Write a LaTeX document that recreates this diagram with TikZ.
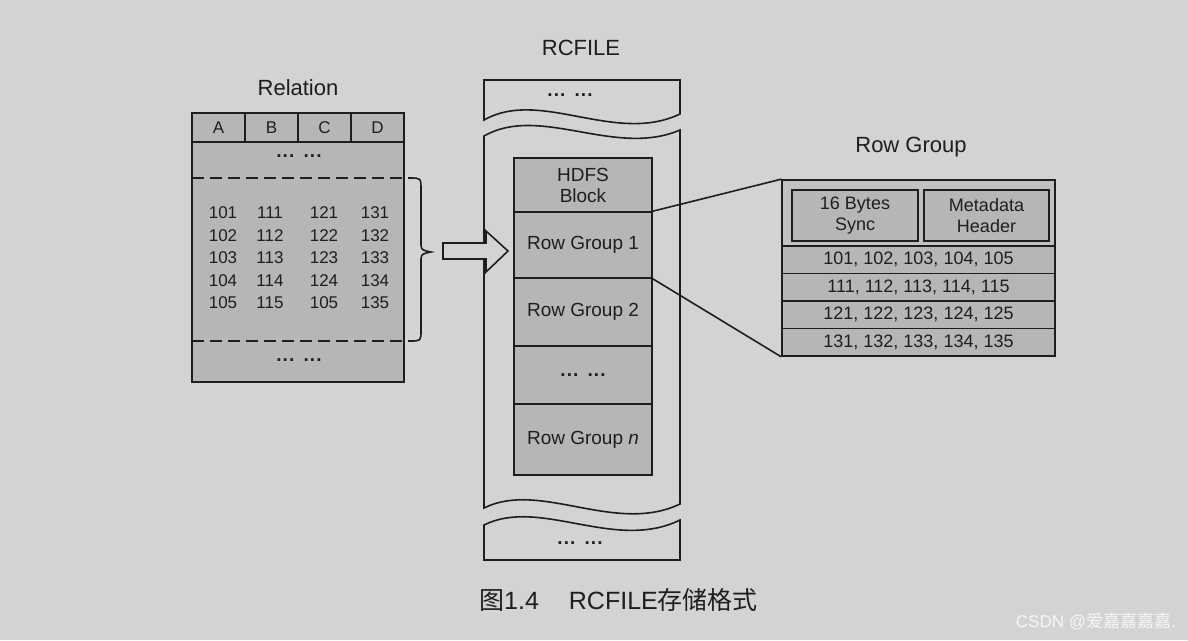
\documentclass[tikz,border=0pt]{standalone}
\usepackage{fontspec}
\setmainfont{Liberation Sans}
\newfontfamily\cjk{Noto Sans CJK SC}
\definecolor{paper}{HTML}{D5D3D2}
\definecolor{shade}{HTML}{B8B6B5}
\definecolor{shadelight}{HTML}{C3C1C0}
\definecolor{ink}{HTML}{1E1E1E}
\newcommand{\dotgroup}{\textbf{.\kern1.2pt.\kern1.2pt.}}
\newcommand{\twodots}{\dotgroup\hspace{9pt}\dotgroup}
\tikzset{
  edge/.style={draw=ink, line width=1.6pt},
  cellbox/.style={edge, fill=shade, inner sep=0pt, align=center, text=ink,
    font=\fontsize{19}{21}\selectfont},
  rowbox/.style={edge, fill=shade, inner sep=0pt, text=ink, minimum width=273pt,
    minimum height=27.5pt, font=\fontsize{18}{20}\selectfont},
  hdrbox/.style={edge, fill=shade, inner sep=0pt, text=ink, minimum width=53pt,
    minimum height=29pt, font=\fontsize{17}{19}\selectfont},
  numtxt/.style={inner sep=0pt, text=ink, font=\fontsize{17}{19}\selectfont},
  dotstxt/.style={inner sep=0pt, text=ink, font=\fontsize{19}{20}\selectfont},
  titletxt/.style={inner sep=0pt, text=ink, font=\fontsize{22}{24}\selectfont},
}
\begin{document}
\begin{tikzpicture}[x=1pt,y=-1pt]
\fill[paper] (0,0) rectangle (1188,640);
\useasboundingbox (0,0) rectangle (1188,640);

% ---------------- Relation ----------------
\node[titletxt] (reltitle) at (298,88) {Relation};
\node[edge, fill=shade, minimum width=212pt, minimum height=269pt, inner sep=0pt] (rel) at (298,247.5) {};
\node[hdrbox] (hA) at (218.5,127.5) {A};
\node[hdrbox] (hB) at (271.5,127.5) {B};
\node[hdrbox] (hC) at (324.5,127.5) {C};
\node[hdrbox] (hD) at (377.5,127.5) {D};
\node[dotstxt] (reldots1) at (299,156) {\twodots};
\node[dotstxt] (reldots2) at (299,360) {\twodots};
\coordinate (d1l) at (192,178);
\coordinate (d1r) at (410,178);
\coordinate (d2l) at (192,341);
\coordinate (d2r) at (410,341);
\coordinate (bracetip) at (431,252);
\draw[edge, dash pattern=on 12pt off 6pt] (d1l) -- (d1r);
\draw[edge, dash pattern=on 12pt off 6pt] (d2l) -- (d2r);
\draw[edge] (d1r) .. controls (421,178) .. (421,190) -- (421,242)
  .. controls (421,250) .. (bracetip) .. controls (421,254) .. (421,262)
  -- (421,330) .. controls (421,341) .. (d2r);
\foreach \c/\x in {1/223,2/270,3/324,4/375}{
  \foreach \r/\y in {1/213,2/235.5,3/258,4/280.5,5/303}{
    \pgfmathtruncatemacro{\v}{100+10*(\c-1)+\r}
    \ifnum\c=3 \ifnum\r=5 \def\v{105}\fi\fi
    \node[numtxt] (n-\c-\r) at (\x,\y) {\v};
  }
}

% ---------------- RCFILE ----------------
\node[titletxt] (rctitle) at (581,48) {RCFILE};
\draw[edge, fill=paper] (484,80) -- (680,80) -- (680,114)
  .. controls (615,145) and (540,88) .. (484,120) -- cycle;
\node[dotstxt] (topdots) at (570,95) {\twodots};
\draw[edge, fill=paper] (484,136) -- (484,508)
  .. controls (540,480) and (615,535) .. (680,504) -- (680,130)
  .. controls (615,158) and (540,104) .. (484,136) -- cycle;
\draw[edge, fill=paper] (484,525) .. controls (540,497) and (615,552) .. (680,520)
  -- (680,560) -- (484,560) -- cycle;
\node[dotstxt] (botdots) at (580,543) {\twodots};

\node[cellbox, minimum width=138pt, minimum height=54pt] (hdfs) at (583,185) {HDFS\\Block};
\node[cellbox, minimum width=138pt, minimum height=66pt] (rg1) at (583,245) {Row Group 1};
\node[cellbox, minimum width=138pt, minimum height=68pt] (rg2) at (583,312) {Row Group 2};
\node[cellbox, minimum width=138pt, minimum height=58pt] (rgdots) at (583,375) {\twodots};
\node[cellbox, minimum width=138pt, minimum height=71pt] (rgn) at (583,439.5) {Row Group \textit{n}};

% block arrow
\draw[edge, fill=paper] (443,243) -- (486,243) -- (486,231) -- (508,251)
  -- (486,272) -- (486,259) -- (443,259) -- cycle;

% ---------------- Row Group ----------------
\node[titletxt] (rgtitle) at (911,147) {Row Group};
\node[edge, fill=shadelight, minimum width=273pt, minimum height=176pt, inner sep=0pt] (rgbox) at (918.5,268) {};
\node[cellbox, minimum width=126pt, minimum height=51pt, font=\fontsize{18}{21}\selectfont] (sync) at (855,215.5) {16 Bytes\\Sync};
\node[cellbox, minimum width=125pt, minimum height=51pt, font=\fontsize{18}{21}\selectfont] (meta) at (986.5,215.5) {Metadata\\Header};
\node[rowbox] (row1) at (918.5,259.75) {101, 102, 103, 104, 105};
\node[rowbox] (row2) at (918.5,287.25) {111, 112, 113, 114, 115};
\node[rowbox] (row3) at (918.5,314.75) {121, 122, 123, 124, 125};
\node[rowbox] (row4) at (918.5,342.25) {131, 132, 133, 134, 135};

\draw[edge] (rg1.north east) -- (rgbox.north west);
\draw[edge] (rg1.south east) -- (rgbox.south west);

% ---------------- caption ----------------
\node[anchor=west, inner sep=0pt, text=ink, font=\fontsize{25}{30}\selectfont] (caption) at (479,600)
  {{\cjk 图}1.4\hspace{30pt}RCFILE{\cjk 存储格式}};
\node[anchor=east, inner sep=0pt, text=white!80!paper, font=\fontsize{17}{20}\selectfont] (wm) at (1176,622)
  {CSDN @{\cjk 爱嘉嘉嘉嘉}.};
\end{tikzpicture}
\end{document}
